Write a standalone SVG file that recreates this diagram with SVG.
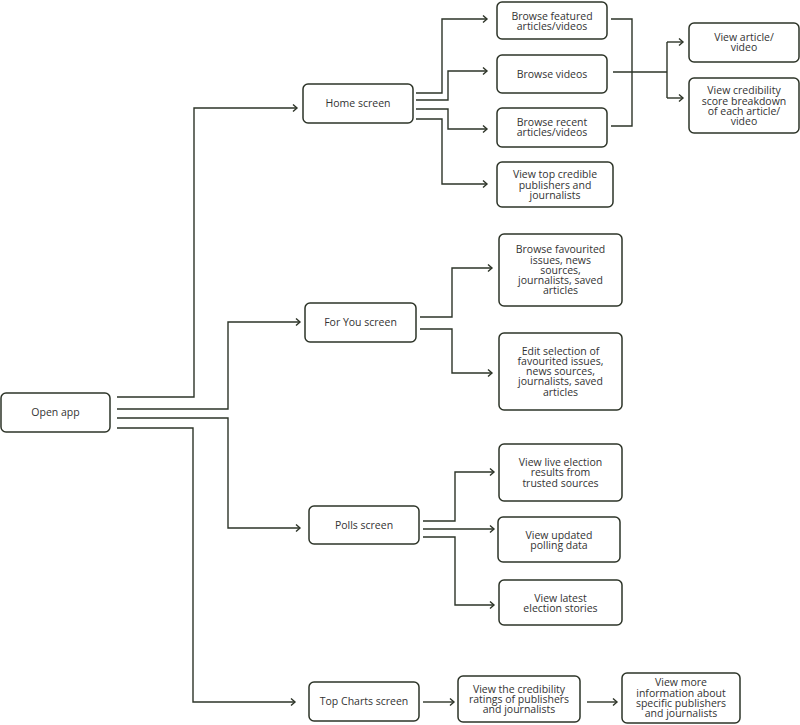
<svg xmlns="http://www.w3.org/2000/svg" width="800" height="725" viewBox="0 0 800 725">
<style>
.box{fill:#fff;stroke:#2d3428;stroke-width:1.5}
.lbl{font-family:"Open Sans","Liberation Sans",sans-serif;font-size:10.5px;fill:#333;text-anchor:middle}
.con{fill:none;stroke:#2d3428;stroke-width:1.4}
.arr{marker-end:url(#chev)}
</style>
<defs>
<marker id="chev" markerUnits="userSpaceOnUse" markerWidth="10" markerHeight="10" viewBox="-6 -5 8 10" refX="0" refY="0" orient="auto" overflow="visible">
<path d="M-4,-3.5 L0,0 L-4,3.5" fill="none" stroke="#2d3428" stroke-width="1.4"/>
</marker>
</defs>
<rect width="800" height="725" fill="#fff"/>
<g id="connectors">
<path class="con arr" d="M117,397 H194 V108 H297"/>
<path class="con arr" d="M117,409 H228 V322 H300"/>
<path class="con arr" d="M117,418 H228 V528 H300"/>
<path class="con arr" d="M117,428 H193 V702 H295"/>
<path class="con arr" d="M416,93 H442 V19 H487"/>
<path class="con arr" d="M416,100 H448 V71 H487"/>
<path class="con arr" d="M416,109 H448 V129 H487"/>
<path class="con arr" d="M416,119 H442 V184 H487"/>
<path class="con" d="M611,19 H632 V126 H611"/>
<path class="con" d="M613,72 H667"/>
<path class="con" d="M667,42 V98"/>
<path class="con arr" d="M667,42 H683"/>
<path class="con arr" d="M667,98 H683"/>
<path class="con arr" d="M420,317 H452 V268 H492"/>
<path class="con arr" d="M420,329 H452 V373 H492"/>
<path class="con arr" d="M423,521 H455 V472 H494"/>
<path class="con arr" d="M423,529 H494"/>
<path class="con arr" d="M423,537 H455 V605 H494"/>
<path class="con arr" d="M423,702 H454"/>
<path class="con arr" d="M587,702 H617"/>
</g>
<g id="open-app"><rect class="box" x="1" y="393" width="109" height="39" rx="5"/><text class="lbl" x="55.5" y="416.2">Open app</text></g>
<g id="home-screen"><rect class="box" x="303" y="84" width="110" height="39" rx="5"/><text class="lbl" x="358" y="107.2">Home screen</text></g>
<g id="browse-featured"><rect class="box" x="497" y="2" width="110" height="37" rx="5"/><text class="lbl" x="552" y="19.6">Browse featured</text><text class="lbl" x="552" y="29.8">articles/videos</text></g>
<g id="browse-videos"><rect class="box" x="497" y="55" width="110" height="38" rx="5"/><text class="lbl" x="552" y="77.7">Browse videos</text></g>
<g id="browse-recent"><rect class="box" x="497" y="108" width="110" height="39" rx="5"/><text class="lbl" x="552" y="126.1">Browse recent</text><text class="lbl" x="552" y="136.3">articles/videos</text></g>
<g id="top-credible"><rect class="box" x="497" y="162" width="116" height="45" rx="5"/><text class="lbl" x="555" y="178.3">View top credible</text><text class="lbl" x="555" y="188.5">publishers and</text><text class="lbl" x="555" y="198.7">journalists</text></g>
<g id="view-article"><rect class="box" x="689" y="23" width="110" height="39" rx="5"/><text class="lbl" x="744" y="41.1">View article/</text><text class="lbl" x="744" y="51.3">video</text></g>
<g id="credibility-score"><rect class="box" x="689" y="78" width="110" height="55" rx="5"/><text class="lbl" x="744" y="94.4">View credibility</text><text class="lbl" x="744" y="104.6">score breakdown</text><text class="lbl" x="744" y="114.8">of each article/</text><text class="lbl" x="744" y="125">video</text></g>
<g id="for-you-screen"><rect class="box" x="305" y="303" width="111" height="39" rx="5"/><text class="lbl" x="360.5" y="326.2">For You screen</text></g>
<g id="browse-favourited"><rect class="box" x="499" y="234" width="123" height="72" rx="5"/><text class="lbl" x="560.5" y="253.3">Browse favourited</text><text class="lbl" x="560.5" y="263.5">issues, news</text><text class="lbl" x="560.5" y="273.7">sources,</text><text class="lbl" x="560.5" y="283.9">journalists, saved</text><text class="lbl" x="560.5" y="294.1">articles</text></g>
<g id="edit-selection"><rect class="box" x="499" y="333" width="123" height="77" rx="5"/><text class="lbl" x="560.5" y="354.8">Edit selection of</text><text class="lbl" x="560.5" y="365">favourited issues,</text><text class="lbl" x="560.5" y="375.2">news sources,</text><text class="lbl" x="560.5" y="385.4">journalists, saved</text><text class="lbl" x="560.5" y="395.6">articles</text></g>
<g id="polls-screen"><rect class="box" x="309" y="506" width="110" height="38" rx="5"/><text class="lbl" x="364" y="528.7">Polls screen</text></g>
<g id="live-election"><rect class="box" x="499" y="444" width="123" height="57" rx="5"/><text class="lbl" x="560.5" y="466.1">View live election</text><text class="lbl" x="560.5" y="476.3">results from</text><text class="lbl" x="560.5" y="486.5">trusted sources</text></g>
<g id="updated-polling"><rect class="box" x="498" y="517" width="122" height="45" rx="5"/><text class="lbl" x="559" y="538.6">View updated</text><text class="lbl" x="559" y="548.8">polling data</text></g>
<g id="latest-election"><rect class="box" x="499" y="580" width="123" height="45" rx="5"/><text class="lbl" x="560.5" y="601.6">View latest</text><text class="lbl" x="560.5" y="611.8">election stories</text></g>
<g id="top-charts-screen"><rect class="box" x="309" y="682" width="110" height="39" rx="5"/><text class="lbl" x="364" y="705.2">Top Charts screen</text></g>
<g id="credibility-ratings"><rect class="box" x="458" y="676" width="122" height="46" rx="5"/><text class="lbl" x="519" y="692.8">View the credibility</text><text class="lbl" x="519" y="703">ratings of publishers</text><text class="lbl" x="519" y="713.2">and journalists</text></g>
<g id="view-more"><rect class="box" x="622" y="673" width="118" height="50" rx="5"/><text class="lbl" x="681" y="686.4">View more</text><text class="lbl" x="681" y="696.6">information about</text><text class="lbl" x="681" y="706.8">specific publishers</text><text class="lbl" x="681" y="717">and journalists</text></g>
</svg>
